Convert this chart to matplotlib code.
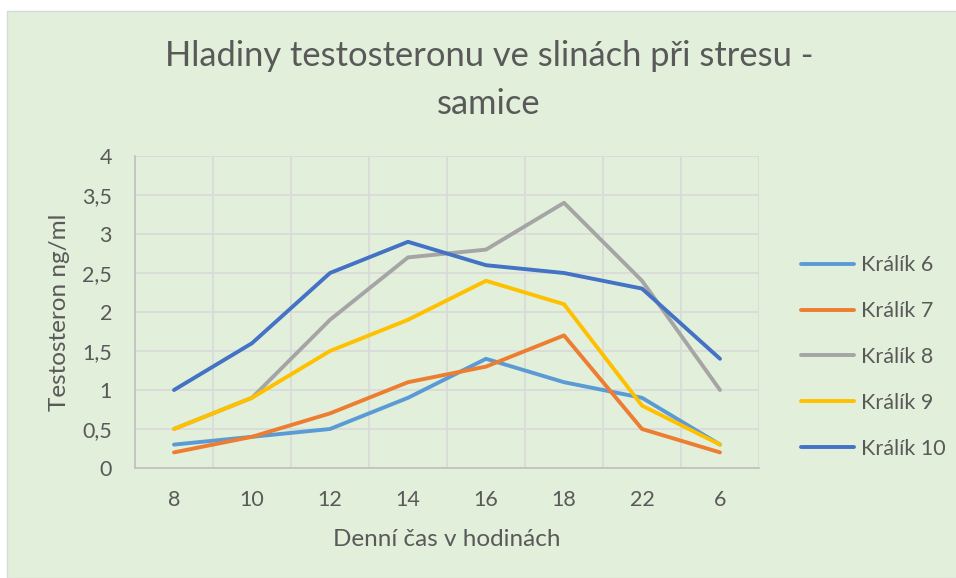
import matplotlib.pyplot as plt
from matplotlib.patches import Rectangle

hours = ["8", "10", "12", "14", "16", "18", "22", "6"]
kralik_6 = [0.3, 0.4, 0.5, 0.9, 1.4, 1.1, 0.9, 0.3]
kralik_7 = [0.2, 0.4, 0.7, 1.1, 1.3, 1.7, 0.5, 0.2]
kralik_8 = [0.5, 0.9, 1.9, 2.7, 2.8, 3.4, 2.4, 1.0]
kralik_9 = [0.5, 0.9, 1.5, 1.9, 2.4, 2.1, 0.8, 0.3]
kralik_10 = [1.0, 1.6, 2.5, 2.9, 2.6, 2.5, 2.3, 1.4]
series_names = ["Králík 6", "Králík 7", "Králík 8", "Králík 9", "Králík 10"]
colors = ["#5B9BD5", "#ED7D31", "#A5A5A5", "#FFC000", "#4472C4"]

plt.rcParams["font.family"] = ["Lato", "DejaVu Sans"]
text_color = "#595959"
bg = "#E2EFDA"

fig = plt.figure(figsize=(9.56, 5.78), dpi=100)
fig.patch.set_facecolor("white")
# green chart area with thin grey border, behind the axes
area = Rectangle((7 / 956, 0), 1.0, 1 - 11 / 578, transform=fig.transFigure,
                 facecolor=bg, edgecolor="#D9D9D9", linewidth=1.0, zorder=-10)
fig.add_artist(area)

ax = fig.add_axes([135 / 956, 1 - 468 / 578, (759 - 135) / 956, (468 - 156) / 578])
ax.set_facecolor(bg)

x = range(len(hours))
for vals, name, c in zip([kralik_6, kralik_7, kralik_8, kralik_9, kralik_10], series_names, colors):
    ax.plot(x, vals, color=c, linewidth=2.8, label=name, solid_capstyle="round", zorder=3)

ax.set_xlim(-0.5, len(hours) - 0.5)
ax.set_ylim(0, 4)
ax.set_yticks([0, 0.5, 1, 1.5, 2, 2.5, 3, 3.5, 4])
ax.set_yticklabels(["0", "0,5", "1", "1,5", "2", "2,5", "3", "3,5", "4"])
ax.set_xticks(list(x))
ax.set_xticklabels(hours)
ax.set_xticks([i + 0.5 for i in range(-1, len(hours))], minor=True)

ax.grid(True, axis="y", color="#D9D9D9", linewidth=1.2, zorder=1)
ax.grid(True, axis="x", which="minor", color="#D9D9D9", linewidth=1.2, zorder=1)
ax.tick_params(axis="both", which="both", length=0, colors=text_color, labelsize=15.5)
ax.tick_params(axis="x", pad=16)
ax.tick_params(axis="y", pad=16.5)
for s in ["top", "right"]:
    ax.spines[s].set_visible(False)
for s in ["left", "bottom"]:
    ax.spines[s].set_color("#BFBFBF")
    ax.spines[s].set_linewidth(1.2)

ax.set_xlabel("Denní čas v hodinách", fontsize=17.5, color=text_color, va="center")
ax.set_ylabel("Testosteron ng/ml", fontsize=17.5, color=text_color, va="center")
ax.xaxis.set_label_coords(0.5, -(540 - 468) / 312)
ax.yaxis.set_label_coords((60 - 135) / 624, 0.5)

fig.text(489 / 956, 1 - 80 / 578, "Hladiny testosteronu ve slinách při stresu -\nsamice",
         ha="center", va="center", fontsize=24.8, color=text_color, linespacing=1.6)

ax.legend(loc="center left", bbox_to_anchor=(1.036, (468 - 357) / 312), frameon=False,
          fontsize=15.5, labelcolor=text_color, handlelength=2.45, labelspacing=1.2,
          handletextpad=0.35)

fig.savefig("out.png", dpi=100, facecolor=fig.get_facecolor())
